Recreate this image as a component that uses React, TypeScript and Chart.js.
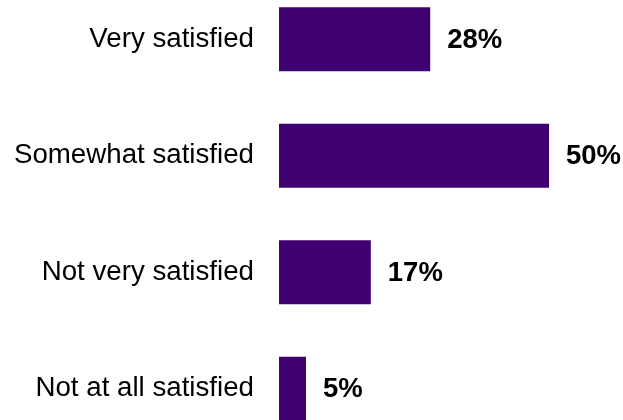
import React, { useEffect, useRef } from "react";
import { Chart, registerables } from "chart.js";

Chart.register(...registerables);

const categories = ["Very satisfied", "Somewhat satisfied", "Not very satisfied", "Not at all satisfied"];
const values = [28, 50, 17, 5];
const valueLabels = ["28%", "50%", "17%", "5%"];

const BAR_COLOR = "#3F0072";
const FONT = "'Liberation Sans', Arial, sans-serif";

const valueLabelPlugin = {
  id: "valueLabels",
  afterDatasetsDraw(chart: any) {
    const ctx = chart.ctx;
    const meta = chart.getDatasetMeta(0);
    ctx.save();
    ctx.font = `bold 27.5px ${FONT}`;
    ctx.fillStyle = "#000000";
    ctx.textAlign = "left";
    ctx.textBaseline = "middle";
    meta.data.forEach((bar: any, i: number) => {
      ctx.fillText(valueLabels[i], bar.x + 17, bar.y + 1);
    });
    ctx.restore();
  },
};

export default function App() {
  const canvasRef = useRef<HTMLCanvasElement | null>(null);

  useEffect(() => {
    if (!canvasRef.current) return;
    const chart = new Chart(canvasRef.current, {
      type: "bar",
      data: {
        labels: categories,
        datasets: [
          {
            data: values,
            backgroundColor: BAR_COLOR,
            borderWidth: 0,
            categoryPercentage: 1,
            barPercentage: 0.55,
          },
        ],
      },
      options: {
        indexAxis: "y",
        animation: false,
        responsive: true,
        maintainAspectRatio: false,
        layout: { padding: 0 },
        plugins: {
          legend: { display: false },
          tooltip: { enabled: false },
        },
        scales: {
          x: {
            display: false,
            min: 0,
            max: 63.7,
          },
          y: {
            grid: { display: false, drawTicks: false },
            border: { display: false },
            ticks: {
              color: "#000000",
              padding: 25,
              font: { family: FONT, size: 27.7 },
            },
            afterFit(scale: any) {
              scale.width = 279;
              scale.paddingTop = 0;
              scale.paddingBottom = 0;
            },
          },
        },
      },
      plugins: [valueLabelPlugin],
    });
    return () => chart.destroy();
  }, []);

  return (
    <div style={{ position: "fixed", left: 0, top: 0, width: 623, height: 420, overflow: "hidden", background: "#fff" }}>
      <div style={{ position: "absolute", left: 0, top: -19, width: 623, height: 466 }}>
        <canvas ref={canvasRef} />
      </div>
    </div>
  );
}
